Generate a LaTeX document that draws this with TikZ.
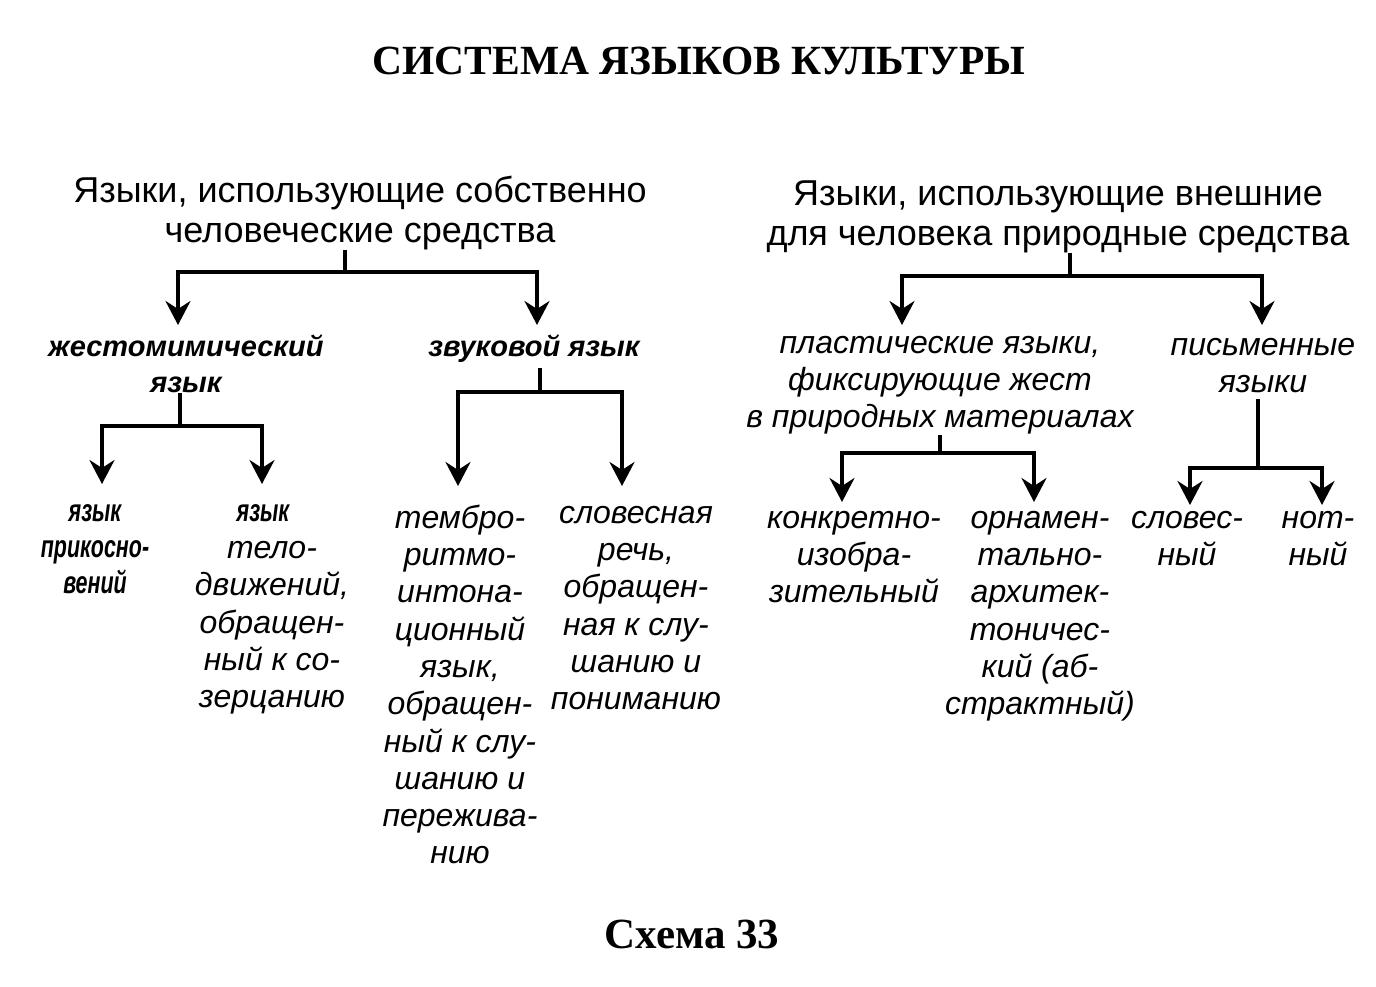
\documentclass[tikz,border=0pt]{standalone}
\usepackage{fontspec}
\setmainfont{Liberation Sans}
\newfontfamily\titlefont{Liberation Serif}
\newfontfamily\condfont[FakeStretch=0.68]{Liberation Sans}
\usetikzlibrary{arrows.meta}
\newcommand{\labstrut}{\rule{0pt}{27pt}}
\newcommand{\bstrut}{\rule{0pt}{25pt}}
\newcommand{\headstrut}{\rule{0pt}{31pt}}
\begin{document}
\begin{tikzpicture}[x=1pt,y=-1pt,
  conn/.style={line width=3.4pt},
  arr/.style={line width=3.4pt,-{Stealth[length=24pt,width=25pt,inset=8pt]}},
  head/.style={font=\fontsize{36}{40}\selectfont,align=center,inner sep=0,anchor=north},
  lab/.style={font=\fontsize{32}{37.3}\selectfont\itshape,align=center,inner sep=0,anchor=north},
  labb/.style={lab,font=\fontsize{29}{36}\selectfont\itshape\bfseries},
  labc/.style={lab,font=\condfont\fontsize{31.5}{36}\selectfont\itshape\bfseries},
  ttl/.style={font=\titlefont\bfseries\fontsize{41.5}{48}\selectfont,inner sep=0,anchor=base}
]
\useasboundingbox[fill=white] (0,0) rectangle (1376,987);

\node[ttl] (title) at (699,75) {СИСТЕМА ЯЗЫКОВ КУЛЬТУРЫ};
\node[ttl,font=\titlefont\bfseries\fontsize{43}{48}\selectfont] (scheme) at (692,948) {Схема 33};

% headings
\node[head] (hL) at (360,171) {\headstrut Языки, использующие собственно\\человеческие средства};
\node[head] (hR) at (1058,174) {\headstrut Языки, использующие внешние\\для человека природные средства};

% level 2
\node[labb] (gest) at (186,331) {\bstrut жестомимический\\язык};
\node[labb] (zvuk) at (534,331) {\bstrut звуковой язык};
\node[lab] (plast) at (940,326) {\labstrut пластические языки,\\фиксирующие жест\\в природных материалах};
\node[lab] (pism) at (1263,328) {\labstrut письменные\\языки};

% level 3
\node[labc] (prik) at (95,494) {\labstrut язык\\прикосно-\\вений};
\node[lab] (telo) at (272,494) {\labstrut{\condfont\bfseries\itshape\fontsize{31.5}{37}\selectfont язык}\hspace*{18pt}\\тело-\\движений,\\обращен-\\ный к со-\\зерцанию};
\node[lab] (temb) at (460,501) {\labstrut тембро-\\ритмо-\\интона-\\ционный\\язык,\\обращен-\\ный к слу-\\шанию и\\пережива-\\нию};
\node[lab] (slovr) at (636,496) {\labstrut словесная\\речь,\\обращен-\\ная к слу-\\шанию и\\пониманию};
\node[lab] (konk) at (854,501) {\labstrut конкретно-\\изобра-\\зительный};
\node[lab] (orn) at (1040,501) {\labstrut орнамен-\\тально-\\архитек-\\тоничес-\\кий (аб-\\страктный)};
\node[lab] (slovn) at (1187,501) {\labstrut словес-\\ный};
\node[lab] (not) at (1318,501) {\labstrut нот-\\ный};

% junctions and arrow ends
\coordinate (jL) at (345,272);
\coordinate (aL1) at (178,325);
\coordinate (aL2) at (537,325);
\coordinate (jR) at (1070,276);
\coordinate (aR1) at (902,325);
\coordinate (aR2) at (1262,325);
\coordinate (jG) at (180,426);
\coordinate (aG1) at (102,484);
\coordinate (aG2) at (262,484);
\coordinate (jZ) at (540,392);
\coordinate (aZ1) at (458,486);
\coordinate (aZ2) at (622,486);
\coordinate (jP) at (940,453);
\coordinate (aP1) at (842,502);
\coordinate (aP2) at (1034,502);
\coordinate (jW) at (1258,468);
\coordinate (aW1) at (1190,505);
\coordinate (aW2) at (1322,505);

\draw[conn] (hL.south -| jL) -- (jL);
\draw[arr] (jL) -| (aL1);
\draw[arr] (jL) -| (aL2);
\draw[conn] (hR.south -| jR) -- (jR);
\draw[arr] (jR) -| (aR1);
\draw[arr] (jR) -| (aR2);
\draw[conn] (gest.south -| jG) -- (jG);
\draw[arr] (jG) -| (aG1);
\draw[arr] (jG) -| (aG2);
\draw[conn] (zvuk.south -| jZ) ++(0,6) -- (jZ);
\draw[arr] (jZ) -| (aZ1);
\draw[arr] (jZ) -| (aZ2);
\draw[conn] (plast.south -| jP) -- (jP);
\draw[arr] (jP) -| (aP1);
\draw[arr] (jP) -| (aP2);
\draw[conn] (pism.south -| jW) ++(0,6) -- (jW);
\draw[arr] (jW) -| (aW1);
\draw[arr] (jW) -| (aW2);
\end{tikzpicture}
\end{document}
